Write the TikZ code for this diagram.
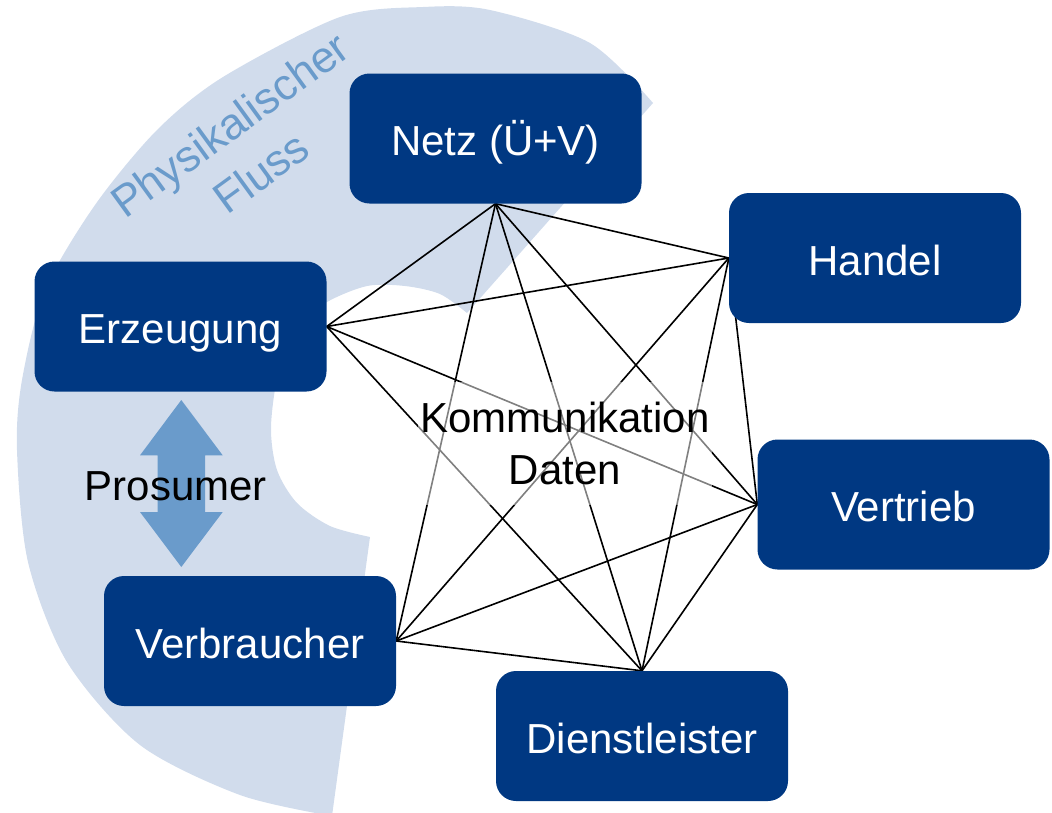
\documentclass[tikz,border=0pt]{standalone}
\usepackage{fontspec}
\setmainfont{Liberation Sans}
\pgfdeclarelayer{bg}
\pgfdeclarelayer{edges}
\pgfsetlayers{bg,edges,main}
\definecolor{bandblue}{HTML}{D1DCEC}
\definecolor{boxblue}{HTML}{003882}
\definecolor{arrowblue}{HTML}{6A9BCB}
\newcommand{\bigfont}{\fontsize{42}{52}\selectfont}
\newcommand{\flowfont}{\fontsize{44}{52}\selectfont}
\tikzset{
  stakeholder/.style={rectangle, fill=boxblue, rounded corners=20pt,
    minimum width=292pt, minimum height=130pt, text=white, font=\bigfont,
    text height=34pt, text depth=0pt, inner sep=0pt},
  link/.style={line width=1.6pt, black},
  commbox/.style={rectangle, fill=white, fill opacity=0.5, text opacity=1,
    minimum width=294pt, minimum height=123pt, inner sep=0pt, align=center,
    font=\bigfont, text=black},
  flowtext/.style={font=\flowfont, text=arrowblue, rotate=36, anchor=base, inner sep=0pt},
  plain/.style={font=\bigfont, text=black, anchor=base, inner sep=0pt},
}
\begin{document}
\begin{tikzpicture}[x=1pt,y=-1pt]
\useasboundingbox (0,0) rectangle (1052,812);

% physical flow band
\begin{pgfonlayer}{bg}
\begin{scope}
\clip (0,0) rectangle (1052,812);
\fill[bandblue]
  plot[smooth] coordinates {(653,103) (590,43) (490,10) (423,7) (340,17) (223,77)
    (157,130) (95,205) (45,290) (22,380) (17,450) (28,562) (67,662) (140,745)
    (240,795) (332,816)}
  -- plot[smooth] coordinates {(370,537) (330,526) (297,503) (277,470) (271,427)
    (279,370) (300,325) (327,302) (367,286) (405,286) (440,294) (467,313)}
  -- cycle;
\end{scope}
% prosumer double arrow
\fill[arrowblue] (181.3,400) -- (222.7,455.3) -- (205,455.3) -- (205,512)
  -- (222.7,512) -- (181.3,567) -- (140,512) -- (157.7,512) -- (157.7,455.3)
  -- (140,455.3) -- cycle;
\end{pgfonlayer}

% stakeholders
\node[stakeholder] (netz) at (495.5,138.5) {Netz (Ü+V)};
\node[stakeholder] (erz)  at (180.5,326.5) {Erzeugung};
\node[stakeholder] (handel) at (875,258) {Handel};
\node[stakeholder] (vertrieb) at (903.5,504.5) {Vertrieb};
\node[stakeholder] (verbr) at (250,641) {Verbraucher};
\node[stakeholder] (dienst) at (642,736) {Dienstleister};

\node[commbox] (comm) at (565,443) {Kommunikation\\Daten};
\node[plain] (prosumer) at (175.8,500.3) {Prosumer};
\node[flowtext] (phys1) at (239,137) {Physikalischer};
\node[flowtext] (phys2) at (270,185) {Fluss};

% communication links
\begin{pgfonlayer}{edges}
\draw[link] (netz.south) -- (erz.east);
\draw[link] (netz.south) -- (handel.west);
\draw[link] (netz.south) -- (vertrieb.west);
\draw[link] (netz.south) -- (verbr.east);
\draw[link] (netz.south) -- (dienst.north);
\draw[link] (erz.east) -- (handel.west);
\draw[link] (erz.east) -- (vertrieb.west);
\draw[link] (erz.east) -- (dienst.north);
\draw[link] (handel.west) -- (vertrieb.west);
\draw[link] (handel.west) -- (verbr.east);
\draw[link] (handel.west) -- (dienst.north);
\draw[link] (vertrieb.west) -- (verbr.east);
\draw[link] (vertrieb.west) -- (dienst.north);
\draw[link] (verbr.east) -- (dienst.north);
\end{pgfonlayer}
\end{tikzpicture}
\end{document}
